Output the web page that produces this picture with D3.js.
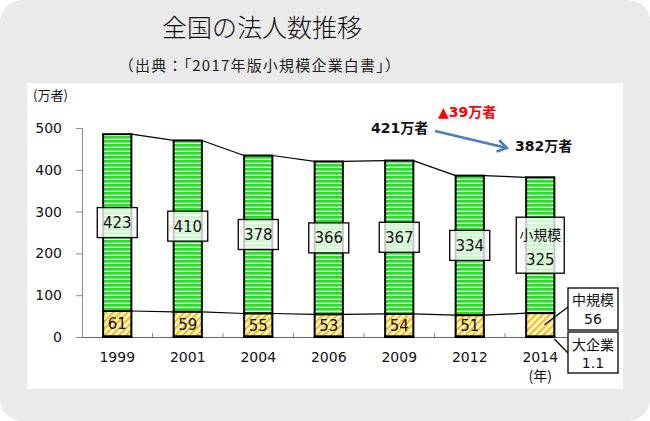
<!DOCTYPE html>
<html><head><meta charset="utf-8">
<script src="https://cdn.jsdelivr.net/npm/d3@7"></script>
<style>body{margin:0;background:#fff}svg{display:block}</style>
</head><body><svg id="c" width="650" height="421"></svg>
<script>
const years = ["1999","2001","2004","2006","2009","2012","2014"];
const large = [1.2,1.2,1.2,1.1,1.1,1.1,1.1];
const medium = [61,59,55,53,54,51,56];
const small = [423,410,378,366,367,334,325];
const seriesNames = ["大企業","中規模","小規模"];
const yTicks = [0,100,200,300,400,500];
const totalsNote = [421,382];
const titleText = "全国の法人数推移";
const subText = "（出典：「2017年版小規模企業白書」）";
const yUnit = "(万者)";
const xUnit = "(年)";

const svg = d3.select("#c");
const JP = "'Noto Sans CJK JP','Noto Sans',sans-serif";
const NUM = "'DejaVu Sans','Noto Sans CJK JP',sans-serif";

// background
svg.append("rect").attr("x",0).attr("y",0).attr("width",650).attr("height",421).attr("fill","#fff");
svg.append("rect").attr("x",0).attr("y",0).attr("width",650).attr("height",421).attr("rx",22).attr("fill","#eaeaea");
svg.append("rect").attr("x",27).attr("y",83).attr("width",596).attr("height",306).attr("fill","#fff");

// title
svg.append("text").attr("x",262).attr("y",37).attr("text-anchor","middle")
  .attr("font-family",JP).attr("font-size",25).attr("font-weight",300).attr("fill","#111").text(titleText);
svg.append("text").attr("x",260).attr("y",71).attr("text-anchor","middle")
  .attr("font-family",JP).attr("font-size",15).attr("letter-spacing",1.2).attr("fill","#222").text(subText);

// patterns
const defs = svg.append("defs");
const pg = defs.append("pattern").attr("id","green").attr("patternUnits","userSpaceOnUse")
  .attr("width",8).attr("height",4);
pg.append("rect").attr("width",8).attr("height",4).attr("fill","#fff");
pg.append("rect").attr("width",8).attr("height",2.7).attr("fill","#1ee61e");
const ph = defs.append("pattern").attr("id","hatch").attr("patternUnits","userSpaceOnUse")
  .attr("width",5).attr("height",5).attr("patternTransform","rotate(45)");
ph.append("rect").attr("width",5).attr("height",5).attr("fill","#fff");
ph.append("rect").attr("width",2.5).attr("height",5).attr("fill","#ffc000");

// scales
const x = d3.scaleBand().domain(years).range([82,575.5]).paddingInner(0.6).paddingOuter(0.3);
const y = d3.scaleLinear().domain([0,500]).range([337,128]);

const data = years.map((yr,i)=>({yr, l:large[i], m:medium[i], s:small[i],
  mTop: large[i]+medium[i], top: large[i]+medium[i]+small[i]}));

// y axis
const ya = svg.append("g").attr("transform","translate(82,0)")
  .call(d3.axisLeft(y).tickValues(yTicks).tickSize(6).tickPadding(14).tickFormat(d3.format("d")));
ya.select(".domain").attr("stroke","#8c8c8c");
ya.selectAll(".tick line").attr("stroke","#8c8c8c");
ya.selectAll("text").attr("font-family",NUM).attr("font-size",14).attr("fill","#111");
svg.append("text").attr("x",33).attr("y",100).attr("font-family",JP).attr("font-size",13)
  .attr("fill","#111").text(yUnit);

// x axis
const xa = svg.append("g").attr("transform","translate(0,337)")
  .call(d3.axisBottom(x).tickSize(0).tickPadding(15));
xa.select(".domain").attr("stroke","#666");
xa.selectAll("text").attr("font-family",NUM).attr("font-size",14).attr("fill","#111");
// category boundary ticks (pointing up)
const step = x.step();
svg.append("g").selectAll("line").data(years.slice(1)).join("line")
  .attr("x1",d=>x(d)-(step-x.bandwidth())/2).attr("x2",d=>x(d)-(step-x.bandwidth())/2)
  .attr("y1",337).attr("y2",333).attr("stroke","#8c8c8c");
svg.append("text").attr("x",x(years[6])+x.bandwidth()/2).attr("y",381).attr("text-anchor","middle")
  .attr("font-family",JP).attr("font-size",14).attr("fill","#111").text(xUnit);

// series lines
const sl = svg.append("g").attr("stroke","#000").attr("stroke-width",1.2).attr("fill","none");
for (let i=0;i<data.length-1;i++){
  const a=data[i], b=data[i+1];
  sl.append("line").attr("x1",x(a.yr)+x.bandwidth()).attr("y1",y(a.top))
    .attr("x2",x(b.yr)).attr("y2",y(b.top));
  sl.append("line").attr("x1",x(a.yr)+x.bandwidth()).attr("y1",y(a.mTop))
    .attr("x2",x(b.yr)).attr("y2",y(b.mTop));
}

// bars
const bars = svg.append("g");
data.forEach(d=>{
  const bx = x(d.yr), bw = x.bandwidth();
  bars.append("rect").attr("x",bx).attr("y",y(d.top)).attr("width",bw).attr("height",y(d.mTop)-y(d.top))
    .attr("fill","url(#green)").attr("stroke","#000").attr("stroke-width",2);
  bars.append("rect").attr("x",bx).attr("y",y(d.mTop)).attr("width",bw).attr("height",y(d.l)-y(d.mTop))
    .attr("fill","url(#hatch)").attr("stroke","#000").attr("stroke-width",2);
  bars.append("rect").attr("x",bx).attr("y",y(d.l)).attr("width",bw).attr("height",Math.max(0.5,y(0)-y(d.l)))
    .attr("fill","#fff").attr("stroke","#000").attr("stroke-width",2);
});

// labels
const lab = svg.append("g");
data.forEach((d,i)=>{
  const cx = x(d.yr)+x.bandwidth()/2;
  const cy = y(d.mTop + d.s/2);
  if (i < data.length-1){
    lab.append("rect").attr("x",cx-20).attr("y",cy-15).attr("width",40).attr("height",30)
      .attr("fill","#fff").attr("fill-opacity",0.78).attr("stroke","#000").attr("stroke-width",1.3);
    lab.append("text").attr("x",cx).attr("y",cy+5.5).attr("text-anchor","middle")
      .attr("font-family",NUM).attr("font-size",15).attr("fill","#111").text(d.s);
  } else {
    lab.append("rect").attr("x",cx-24).attr("y",cy-28).attr("width",48).attr("height",56)
      .attr("fill","#fff").attr("fill-opacity",0.78).attr("stroke","#000").attr("stroke-width",1.3);
    lab.append("text").attr("x",cx).attr("y",cy-5).attr("text-anchor","middle")
      .attr("font-family",JP).attr("font-size",14).attr("fill","#111").text(seriesNames[2]);
    lab.append("text").attr("x",cx).attr("y",cy+20).attr("text-anchor","middle")
      .attr("font-family",NUM).attr("font-size",15).attr("fill","#111").text(d.s);
  }
  if (i < data.length-1){
    lab.append("text").attr("x",cx).attr("y",y(d.l + d.m/2)+5.5).attr("text-anchor","middle")
      .attr("font-family",NUM).attr("font-size",15).attr("fill","#111").text(d.m);
  }
});

// right-side callouts for 2014
const last = data[data.length-1];
const lx = x(last.yr), lw = x.bandwidth();
const cg = svg.append("g");
cg.append("line").attr("x1",568).attr("y1",307).attr("x2",lx+lw*0.65).attr("y2",y(last.l+last.m/2))
  .attr("stroke","#000").attr("stroke-width",1.2);
cg.append("line").attr("x1",lx+lw).attr("y1",y(0)+2).attr("x2",568).attr("y2",353)
  .attr("stroke","#000").attr("stroke-width",1.2);
cg.append("rect").attr("x",568).attr("y",288).attr("width",50).attr("height",42)
  .attr("fill","#fff").attr("stroke","#000").attr("stroke-width",1.3);
cg.append("text").attr("x",593).attr("y",305).attr("text-anchor","middle").attr("font-family",JP)
  .attr("font-size",14).attr("fill","#111").text(seriesNames[1]);
cg.append("text").attr("x",593).attr("y",324).attr("text-anchor","middle").attr("font-family",NUM)
  .attr("font-size",14).attr("fill","#111").text(last.m);
cg.append("rect").attr("x",568).attr("y",332).attr("width",50).attr("height",41)
  .attr("fill","#fff").attr("stroke","#000").attr("stroke-width",1.3);
cg.append("text").attr("x",593).attr("y",350).attr("text-anchor","middle").attr("font-family",JP)
  .attr("font-size",14).attr("fill","#111").text(seriesNames[0]);
cg.append("text").attr("x",593).attr("y",368).attr("text-anchor","middle").attr("font-family",NUM)
  .attr("font-size",14).attr("fill","#111").text(last.l.toFixed(1));

// annotation
const an = svg.append("g");
an.append("text").attr("x",371).attr("y",133).attr("font-family",NUM).attr("font-weight","bold")
  .attr("font-size",14).attr("fill","#111").text(totalsNote[0]+"万者");
an.append("text").attr("x",438).attr("y",117).attr("font-family",NUM).attr("font-weight","bold")
  .attr("font-size",14).attr("fill","#ff0000").text("▲"+(totalsNote[0]-totalsNote[1])+"万者");
an.append("text").attr("x",515).attr("y",151).attr("font-family",NUM).attr("font-weight","bold")
  .attr("font-size",14).attr("fill","#111").text(totalsNote[1]+"万者");
const ax1=435, ay1=131, ax2=507, ay2=148;
const ang = Math.atan2(ay2-ay1, ax2-ax1);
an.append("line").attr("x1",ax1).attr("y1",ay1).attr("x2",ax2-1).attr("y2",ay2-0.3)
  .attr("stroke","#4a7ebb").attr("stroke-width",2.5);
const hl = 11, ha = 0.55;
an.append("path").attr("d",`M${ax2-hl*Math.cos(ang-ha)},${ay2-hl*Math.sin(ang-ha)}L${ax2},${ay2}L${ax2-hl*Math.cos(ang+ha)},${ay2-hl*Math.sin(ang+ha)}`)
  .attr("fill","none").attr("stroke","#4a7ebb").attr("stroke-width",2.5).attr("stroke-linejoin","miter");
</script></body></html>
